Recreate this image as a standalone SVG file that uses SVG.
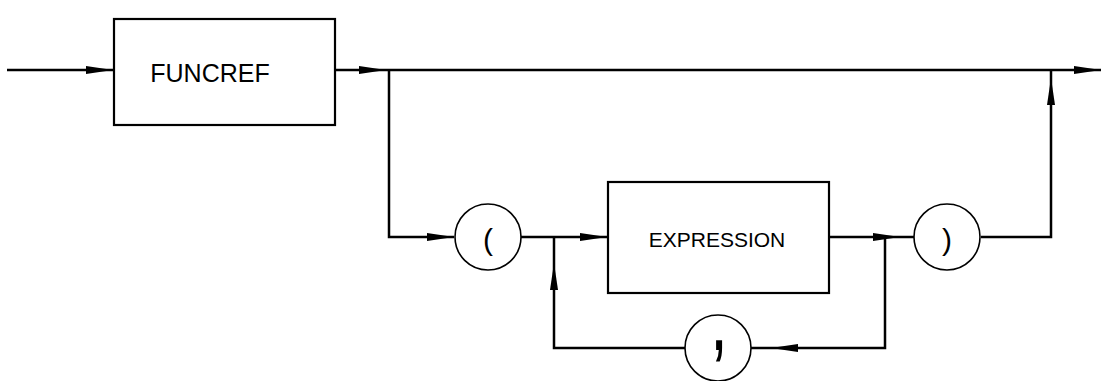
<svg xmlns="http://www.w3.org/2000/svg" width="1102" height="381" viewBox="0 0 1102 381">
<defs>
<marker id="arr" markerUnits="userSpaceOnUse" markerWidth="30" markerHeight="12" viewBox="-28 -6 30 12" refX="0" refY="0" orient="auto">
<path d="M-27,-4 L0,0 L-27,4 Z" fill="#000"/>
</marker>
</defs>
<style>
.box{fill:#fff;stroke:#000;stroke-width:2.2}
.circ{fill:#fff;stroke:#000;stroke-width:1.6}
.ln{fill:none;stroke:#000;stroke-width:2.5}
.lbl{font-family:"Liberation Sans",Arial,sans-serif;fill:#000;text-anchor:middle}
</style>
<g id="connectors">
<path class="ln" d="M7,70 H113" marker-end="url(#arr)"/>
<path class="ln" d="M335,70 H386" marker-end="url(#arr)"/>
<path class="ln" d="M386,70 H1101" marker-end="url(#arr)"/>
<path class="ln" d="M389,70 V237 H454" marker-end="url(#arr)"/>
<path class="ln" d="M521,237 H607" marker-end="url(#arr)"/>
<path class="ln" d="M829,237 H900" marker-end="url(#arr)"/>
<path class="ln" d="M900,237 H914"/>
<path class="ln" d="M981,237 H1051 V78" marker-end="url(#arr)"/>
<path class="ln" d="M1051,78 V70"/>
<path class="ln" d="M885,237 V348 H771" marker-end="url(#arr)"/>
<path class="ln" d="M771,348 H751"/>
<path class="ln" d="M685,348 H554 V263" marker-end="url(#arr)"/>
<path class="ln" d="M554,263 V237"/>
</g>
<g id="funcref">
<rect class="box" x="114" y="19" width="221" height="106"/>
<text class="lbl" x="210" y="82" font-size="25">FUNCREF</text>
</g>
<g id="lparen">
<circle class="circ" cx="488" cy="237" r="33"/>
<text class="lbl" x="488" y="250" font-size="30">(</text>
</g>
<g id="expression">
<rect class="box" x="608" y="182" width="221" height="111"/>
<text class="lbl" x="717" y="247" font-size="21">EXPRESSION</text>
</g>
<g id="rparen">
<circle class="circ" cx="947" cy="237" r="33"/>
<text class="lbl" x="947" y="250" font-size="30">)</text>
</g>
<g id="comma">
<circle class="circ" cx="718" cy="348" r="33"/>
<text class="lbl" font-size="70" transform="translate(719,350) scale(0.9,1.3)">,</text>
</g>
</svg>
